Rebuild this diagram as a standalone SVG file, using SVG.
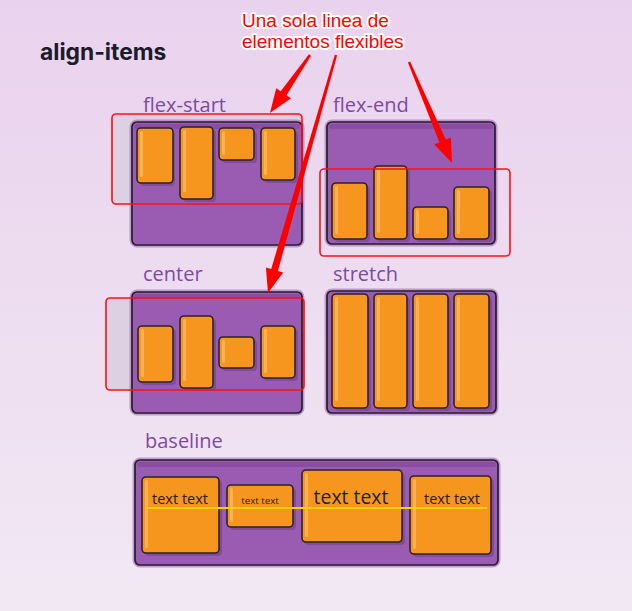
<svg xmlns="http://www.w3.org/2000/svg" width="632" height="611" viewBox="0 0 632 611">
<defs>
<linearGradient id="bg" x1="0" y1="0" x2="0" y2="1">
<stop offset="0" stop-color="#e9d2ed"/>
<stop offset="1" stop-color="#f2e8f4"/>
</linearGradient>
</defs>
<style>
.lbl{font-family:"Open Sans",sans-serif;font-size:20px;fill:#7d4b9f}
.box{fill:#9a5cb2;stroke:#232024;stroke-width:1.7}
.boxo{fill:none;stroke:#9a5cb2;stroke-width:3;opacity:.55}
.band{fill:#894ea4}
.sh{fill:#7a4494;opacity:.7}
.it{fill:#f7961f;stroke:#2a2326;stroke-width:1.6}
.hl{fill:#fbb257}
.redf{fill:#ddd0e3}
.red{fill:none;stroke:#ff1010;stroke-width:1.6}
.arr{fill:#ff0000}
.tt{font-family:"Open Sans",sans-serif;fill:#231f20;text-anchor:middle}
.note{font-family:"Liberation Sans",Arial,sans-serif;font-size:19px;fill:#ff0000;stroke:#ffffff;stroke-width:4;stroke-linejoin:round;paint-order:stroke}
</style>
<rect width="632" height="611" fill="url(#bg)"/>
<text x="40" y="60" font-family="Inter,sans-serif" font-weight="700" font-size="22.8" fill="#1c1b29">align-items</text>

<g id="flex-start">
<text class="lbl" x="143" y="112">flex-start</text>
<rect class="redf" x="112" y="114" width="190" height="90" rx="4"/>
<rect class="boxo" x="131" y="121" width="172" height="125" rx="6"/>
<rect class="box" x="132" y="122" width="170" height="123" rx="5"/>
<rect class="band" x="134" y="124" width="166" height="5" rx="2"/>
<rect class="sh" x="140" y="131" width="35" height="55" rx="4"/>
<rect class="it" x="137" y="128" width="36" height="55" rx="4"/>
<rect class="hl" x="140" y="131" width="3" height="46" rx="1.5"/>
<rect class="sh" x="183" y="130" width="33" height="72" rx="4"/>
<rect class="it" x="180" y="127" width="33" height="72" rx="4"/>
<rect class="hl" x="183" y="130" width="3" height="62" rx="1.5"/>
<rect class="sh" x="222" y="131" width="35" height="32" rx="4"/>
<rect class="it" x="219" y="128" width="35" height="32" rx="4"/>
<rect class="hl" x="222" y="131" width="3" height="24" rx="1.5"/>
<rect class="sh" x="264" y="131" width="34" height="52" rx="4"/>
<rect class="it" x="261" y="128" width="34" height="52" rx="4"/>
<rect class="hl" x="264" y="131" width="3" height="44" rx="1.5"/>
<rect class="red" x="112" y="114" width="190" height="90" rx="4"/>
</g>

<g id="flex-end">
<text class="lbl" x="333" y="112">flex-end</text>
<rect class="boxo" x="326" y="121" width="170" height="124" rx="6"/>
<rect class="box" x="327" y="122" width="168" height="122" rx="5"/>
<rect class="band" x="329" y="124" width="164" height="5" rx="2"/>
<rect class="sh" x="335" y="186" width="35" height="56" rx="4"/>
<rect class="it" x="332" y="183" width="35" height="56" rx="4"/>
<rect class="hl" x="335" y="186" width="3" height="48" rx="1.5"/>
<rect class="sh" x="377" y="169" width="33" height="73" rx="4"/>
<rect class="it" x="374" y="166" width="33" height="73" rx="4"/>
<rect class="hl" x="377" y="169" width="3" height="64" rx="1.5"/>
<rect class="sh" x="416" y="210" width="35" height="32" rx="4"/>
<rect class="it" x="413" y="207" width="35" height="32" rx="4"/>
<rect class="hl" x="416" y="210" width="3" height="24" rx="1.5"/>
<rect class="sh" x="457" y="190" width="35" height="52" rx="4"/>
<rect class="it" x="454" y="187" width="35" height="52" rx="4"/>
<rect class="hl" x="457" y="190" width="3" height="44" rx="1.5"/>
<rect class="red" x="320" y="169" width="190" height="87" rx="4"/>
</g>

<g id="center">
<text class="lbl" x="143" y="281">center</text>
<rect class="redf" x="106" y="298" width="198" height="92" rx="4"/>
<rect class="boxo" x="131" y="291" width="172" height="123" rx="6"/>
<rect class="box" x="132" y="292" width="170" height="121" rx="5"/>
<rect class="band" x="134" y="294" width="166" height="5" rx="2"/>
<rect class="sh" x="141" y="329" width="35" height="56" rx="4"/>
<rect class="it" x="138" y="326" width="35" height="56" rx="4"/>
<rect class="hl" x="141" y="329" width="3" height="48" rx="1.5"/>
<rect class="sh" x="183" y="319" width="33" height="72" rx="4"/>
<rect class="it" x="180" y="316" width="33" height="72" rx="4"/>
<rect class="hl" x="183" y="319" width="3" height="62" rx="1.5"/>
<rect class="sh" x="222" y="340" width="35" height="31" rx="4"/>
<rect class="it" x="219" y="337" width="35" height="31" rx="4"/>
<rect class="hl" x="222" y="340" width="3" height="23" rx="1.5"/>
<rect class="sh" x="264" y="329" width="34" height="52" rx="4"/>
<rect class="it" x="261" y="326" width="34" height="52" rx="4"/>
<rect class="hl" x="264" y="329" width="3" height="44" rx="1.5"/>
<rect class="red" x="106" y="298" width="198" height="92" rx="4"/>
</g>

<g id="stretch">
<text class="lbl" x="333" y="281">stretch</text>
<rect class="boxo" x="326" y="290" width="171" height="124" rx="6"/>
<rect class="box" x="327" y="291" width="169" height="122" rx="5"/>
<rect class="sh" x="335" y="297" width="36" height="114" rx="4"/>
<rect class="it" x="332" y="294" width="36" height="114" rx="4"/>
<rect class="hl" x="335" y="297" width="3" height="104" rx="1.5"/>
<rect class="sh" x="377" y="297" width="33" height="114" rx="4"/>
<rect class="it" x="374" y="294" width="33" height="114" rx="4"/>
<rect class="hl" x="377" y="297" width="3" height="104" rx="1.5"/>
<rect class="sh" x="416" y="297" width="35" height="114" rx="4"/>
<rect class="it" x="413" y="294" width="35" height="114" rx="4"/>
<rect class="hl" x="416" y="297" width="3" height="104" rx="1.5"/>
<rect class="sh" x="457" y="297" width="35" height="114" rx="4"/>
<rect class="it" x="454" y="294" width="35" height="114" rx="4"/>
<rect class="hl" x="457" y="297" width="3" height="104" rx="1.5"/>
</g>

<g id="baseline">
<text class="lbl" x="145" y="448">baseline</text>
<rect class="boxo" x="134" y="459" width="365" height="107" rx="6"/>
<rect class="box" x="135" y="460" width="363" height="105" rx="5"/>
<rect class="band" x="137" y="462" width="359" height="5" rx="2"/>
<rect class="sh" x="145" y="480" width="77" height="76" rx="4"/>
<rect class="it" x="142" y="477" width="77" height="76" rx="4"/>
<rect class="hl" x="145" y="480" width="3" height="68" rx="1.5"/>
<rect class="sh" x="230" y="488" width="66" height="42" rx="4"/>
<rect class="it" x="227" y="485" width="66" height="42" rx="4"/>
<rect class="hl" x="230" y="488" width="3" height="34" rx="1.5"/>
<rect class="sh" x="305" y="473" width="100" height="72" rx="4"/>
<rect class="it" x="302" y="470" width="100" height="72" rx="4"/>
<rect class="hl" x="305" y="473" width="3" height="64" rx="1.5"/>
<rect class="sh" x="413" y="479" width="81" height="78" rx="4"/>
<rect class="it" x="410" y="476" width="81" height="78" rx="4"/>
<rect class="hl" x="413" y="479" width="3" height="70" rx="1.5"/>
<text class="tt" x="180" y="504" font-size="14.5">text text</text>
<text class="tt" x="260" y="504" font-size="9.7">text text</text>
<text class="tt" x="351" y="504" font-size="19.4">text text</text>
<text class="tt" x="452" y="504" font-size="14.5">text text</text>
<line x1="147" y1="508" x2="487" y2="508" stroke="#f6d000" stroke-width="2.2"/>
</g>

<g id="note">
<text class="note" x="242" y="27">Una sola linea de</text>
<text class="note" x="242" y="48">elementos flexibles</text>
</g>

<g id="connectors">
<polygon class="arr" points="310.99,55.68 286.50,95.23 291.03,98.35 270,113 276.21,88.13 280.74,91.25 309.01,54.32"/>
<polygon class="arr" points="337.15,55.33 277.96,270.88 283.24,272.39 268,293 265.94,267.45 271.22,268.96 334.85,54.67"/>
<polygon class="arr" points="410.10,61.53 445.82,139.55 450.88,137.39 452,163 434.32,144.45 439.38,142.29 407.90,62.47"/>
</g>
</svg>
